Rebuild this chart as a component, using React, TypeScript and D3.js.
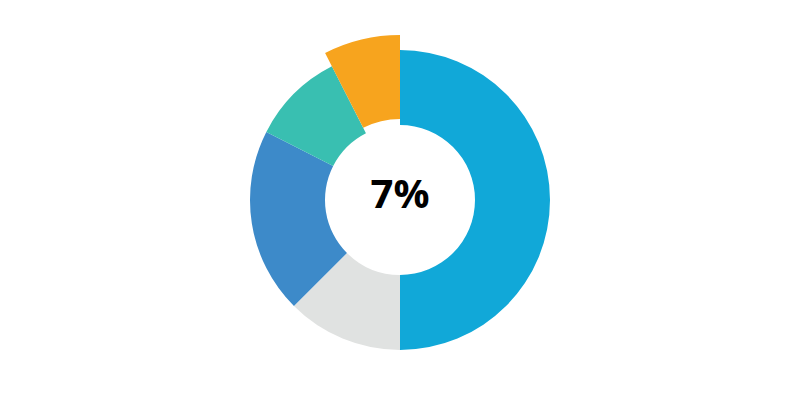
import React from "react";
import * as d3 from "d3";

const labels = ["A", "B", "C", "D", "E"];
const values = [50, 12.5, 20, 10, 7.5];
const colors = ["#11A8D8", "#E0E2E1", "#3D8AC9", "#39BFB1", "#F7A41E"];
const highlighted = 4;
const centerLabel = "7%";

export default function App() {
  const width = 800;
  const height = 400;
  const cx = 400;
  const cy = 200;
  const pie = d3.pie<number>().value((d) => d).sort(null);
  const arcs = pie(values);
  const normal = d3.arc<d3.PieArcDatum<number>>().innerRadius(75).outerRadius(150);
  const big = d3.arc<d3.PieArcDatum<number>>().innerRadius(81).outerRadius(165);
  return (
    <svg width={width} height={height} style={{ position: "absolute", left: 0, top: 0 }}>
      <rect width={width} height={height} fill="#fff" />
      <g transform={`translate(${cx},${cy})`}>
        {arcs.map((a, i) => (
          <path
            key={labels[i]}
            d={(i === highlighted ? big : normal)(a) || ""}
            fill={colors[i]}
          />
        ))}
        <text
          x={0}
          y={8}
          textAnchor="middle"
          fontFamily="'Open Sans', sans-serif"
          fontWeight={700}
          fontSize={40}
          fill="#000"
        >
          {centerLabel}
        </text>
      </g>
    </svg>
  );
}
